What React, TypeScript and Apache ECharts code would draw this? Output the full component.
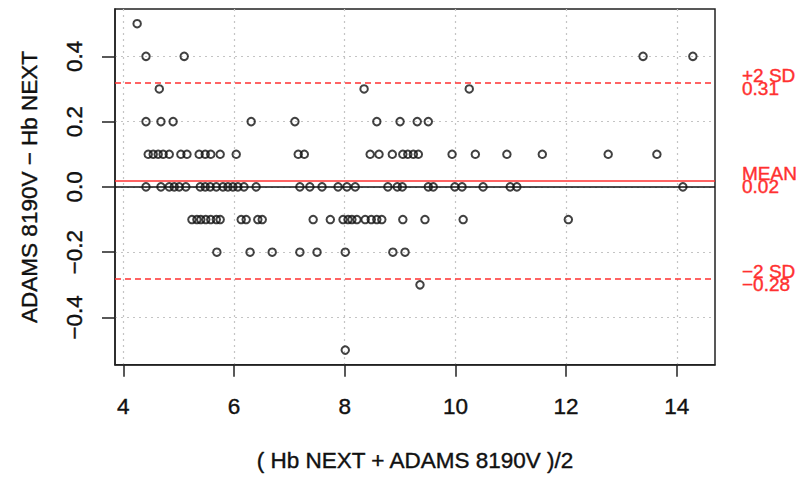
import React, { useEffect, useRef } from "react";
import * as echarts from "echarts";

// Average of the two methods (x), grouped by the observed difference (y)
const diffLevels = [0.5, 0.4, 0.3, 0.2, 0.1, 0.0, -0.1, -0.2, -0.3, -0.5];
const xAtDiff05 = [4.25];
const xAtDiff04 = [4.41, 5.1, 13.39, 14.29];
const xAtDiff03 = [4.65, 8.35, 10.25];
const xAtDiff02 = [4.41, 4.68, 4.9, 6.31, 7.1, 8.58, 9.0, 9.31, 9.51];
const xAtDiff01 = [
  4.45, 4.54, 4.63, 4.72, 4.83, 5.04, 5.15, 5.37, 5.48, 5.58, 5.75, 6.04, 7.16, 7.27,
  8.46, 8.62, 8.86, 9.05, 9.14, 9.24, 9.33, 9.94, 10.36, 10.93, 11.57, 12.76, 13.64,
];
const xAtDiff00 = [
  4.41, 4.68, 4.83, 4.92, 5.01, 5.13, 5.39, 5.48, 5.57, 5.68, 5.8, 5.89, 5.98, 6.07,
  6.18, 6.4, 7.19, 7.37, 7.59, 7.88, 8.04, 8.19, 8.78, 8.95, 9.04, 9.51, 9.6, 9.99,
  10.12, 10.5, 10.99, 11.11, 14.11,
];
const xAtDiffM01 = [
  5.24, 5.33, 5.4, 5.49, 5.58, 5.68, 5.75, 6.13, 6.22, 6.43, 6.51, 7.43, 7.74, 7.97,
  8.06, 8.13, 8.22, 8.37, 8.48, 8.58, 8.67, 9.05, 9.45, 10.14, 12.04,
];
const xAtDiffM02 = [5.69, 6.29, 6.69, 7.19, 7.5, 8.01, 8.87, 9.09];
const xAtDiffM03 = [9.36];
const xAtDiffM05 = [8.01];
const xGroups = [
  xAtDiff05, xAtDiff04, xAtDiff03, xAtDiff02, xAtDiff01,
  xAtDiff00, xAtDiffM01, xAtDiffM02, xAtDiffM03, xAtDiffM05,
];

// Bland-Altman reference lines
const meanDiff = 0.0199;
const upperLimit = 0.3186;
const lowerLimit = -0.2788;
const meanLabel = ["MEAN", "0.02"];
const upperLabel = ["+2 SD", "0.31"];
const lowerLabel = ["\u22122 SD", "\u22120.28"];

const xTicks = [4, 6, 8, 10, 12, 14];
const yTicks = [-0.4, -0.2, 0.0, 0.2, 0.4];
const xTitle = "( Hb NEXT + ADAMS 8190V )/2";
const yTitle = "ADAMS 8190V \u2212 Hb NEXT";

const RED = "#ff3030";
const INK = "#111";
const FONT = "'Liberation Sans', Arial, Helvetica, sans-serif";

function fmtY(v: number) {
  const s = Math.abs(v).toFixed(1);
  return v < -1e-9 ? "\u2212" + s : s;
}

export default function App() {
  const ref = useRef<HTMLDivElement>(null);

  useEffect(() => {
    if (!ref.current) return;
    const chart = echarts.init(ref.current, null, { renderer: "svg" });

    const points: number[][] = [];
    xGroups.forEach((g, i) => {
      g.forEach((x) => points.push([x, diffLevels[i]]));
    });

    const lbl = (lines: string[]) => ({
      show: true,
      position: "end",
      distance: 27,
      formatter: lines.join("\n"),
      color: RED,
      fontSize: 19,
      lineHeight: 13,
      fontFamily: FONT,
      textBorderColor: RED,
      textBorderWidth: 0.4,
      align: "left",
    });

    const textStyle = {
      fontSize: 22.5,
      color: INK,
      fontFamily: FONT,
      textBorderColor: INK,
      textBorderWidth: 0.4,
    };

    chart.setOption({
      animation: false,
      backgroundColor: "#ffffff",
      grid: {
        left: 115,
        right: 86,
        top: 9,
        bottom: 109,
        show: true,
        borderColor: "#222",
        borderWidth: 1.5,
        backgroundColor: "transparent",
      },
      xAxis: {
        type: "value",
        min: 3.85,
        max: 14.69,
        name: xTitle,
        nameLocation: "middle",
        nameGap: 84,
        nameTextStyle: textStyle,
        axisLine: { show: true, onZero: false, lineStyle: { color: "#222", width: 1.5 } },
        axisTick: {
          show: true,
          inside: false,
          length: 12,
          customValues: xTicks,
          lineStyle: { color: "#222", width: 1.5 },
        },
        axisLabel: {
          ...textStyle,
          customValues: xTicks,
          margin: 30,
          formatter: (v: number) => String(v),
        },
        splitLine: {
          show: true,
          lineStyle: { color: "#c4c4c4", type: [2, 4], width: 1.2 },
        },
      },
      yAxis: {
        type: "value",
        min: -0.545,
        max: 0.545,
        name: yTitle,
        nameLocation: "middle",
        nameRotate: 90,
        nameGap: 74,
        nameTextStyle: textStyle,
        axisLine: { show: true, onZero: false, lineStyle: { color: "#222", width: 1.5 } },
        axisTick: {
          show: true,
          inside: false,
          length: 13,
          customValues: yTicks,
          lineStyle: { color: "#222", width: 1.5 },
        },
        axisLabel: {
          ...textStyle,
          customValues: yTicks,
          rotate: 90,
          margin: 29,
          formatter: (v: number) => fmtY(v),
        },
        splitLine: {
          show: true,
          lineStyle: { color: "#c4c4c4", type: [2, 4], width: 1.2 },
        },
      },
      series: [
        {
          type: "scatter",
          data: points,
          symbol: "circle",
          symbolSize: 7.5,
          itemStyle: { color: "rgba(0,0,0,0)", borderColor: "#111", borderWidth: 2 },
          z: 5,
          markLine: {
            silent: true,
            symbol: "none",
            animation: false,
            data: [
              {
                yAxis: 0,
                lineStyle: { color: "#111", type: "solid", width: 1.6 },
                label: { show: false },
              },
              {
                yAxis: meanDiff,
                lineStyle: { color: RED, type: "solid", width: 1.6 },
                label: lbl(meanLabel),
              },
              {
                yAxis: upperLimit,
                lineStyle: { color: RED, type: [6, 4], width: 1.6 },
                label: lbl(upperLabel),
              },
              {
                yAxis: lowerLimit,
                lineStyle: { color: RED, type: [6, 4], width: 1.6 },
                label: lbl(lowerLabel),
              },
            ],
          },
        },
      ],
    });

    return () => chart.dispose();
  }, []);

  return (
    <div
      ref={ref}
      style={{ position: "fixed", left: 0, top: 0, width: 801, height: 477, background: "#fff" }}
    />
  );
}
